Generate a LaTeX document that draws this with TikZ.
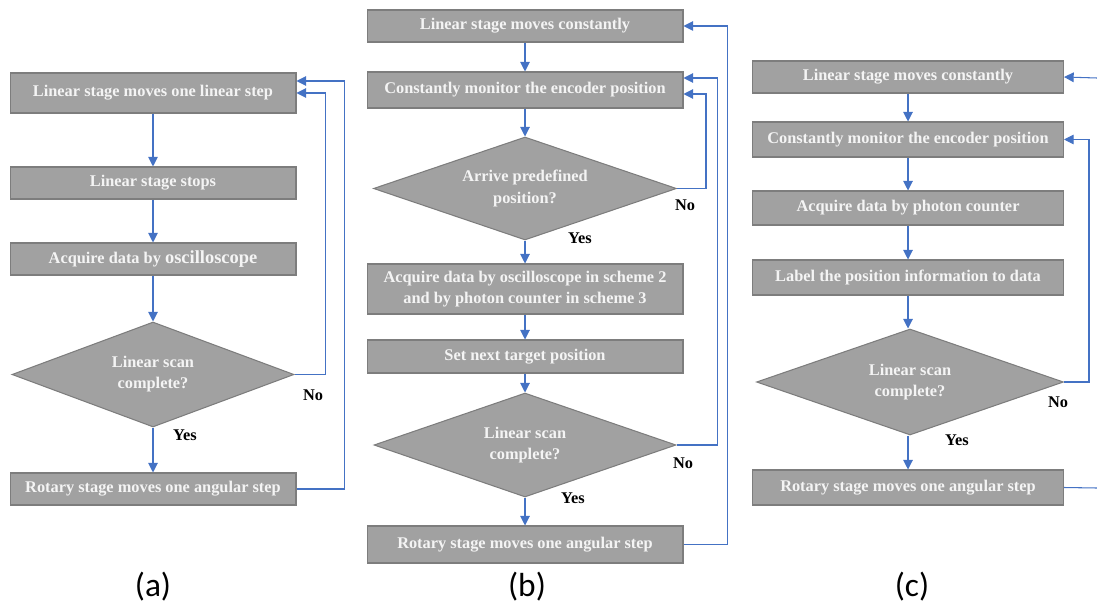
\documentclass[tikz,border=0pt]{standalone}
\usepackage{fontspec}
\setmainfont{Liberation Serif}
\newfontfamily\capfont{Carlito}
\usetikzlibrary{positioning, shapes.geometric, arrows.meta}

\definecolor{boxfill}{RGB}{161,161,161}
\definecolor{boxline}{RGB}{125,125,125}
\definecolor{boxtext}{RGB}{244,244,244}
\definecolor{flowblue}{RGB}{68,114,196}

\tikzset{
    box/.style={draw=boxline, fill=boxfill, text=boxtext, line width=0.6pt,
        font=\bfseries\fontsize{9.3}{12}\selectfont, inner sep=0pt, align=center},
    dec/.style={box, diamond, aspect=2.8},
    flow/.style={draw=flowblue, line width=0.6pt, -{Triangle[width=5.5pt,length=5.5pt]}},
    flowline/.style={draw=flowblue, line width=0.6pt},
    lbl/.style={font=\bfseries\fontsize{9.3}{11}\selectfont},
    captext/.style={font=\capfont\fontsize{19}{22}\selectfont},
}

\begin{document}
\begin{tikzpicture}[x=0.02cm, y=-0.02cm]
        \useasboundingbox (0,0) rectangle (1097,611);
        % (a)
        \node[box, minimum width=5.72cm, minimum height=0.8cm] (a1) at (153,93) {Linear stage moves one linear step};
        \node[box, minimum width=5.72cm, minimum height=0.64cm] (a2) at (153,183) {Linear stage stops};
        \node[box, minimum width=5.72cm, minimum height=0.64cm] (a3) at (153,259) {Acquire data by {\fontsize{10.5}{11}\selectfont oscilloscope}};
        \node[dec, minimum width=5.64cm, minimum height=2.1cm] (ad) at (153,374.5) {Linear scan\\complete?};
        \node[box, minimum width=5.72cm, minimum height=0.64cm] (a4) at (153,489) {Rotary stage moves one angular step};
        \draw[flow] (a1) -- (a2);
        \draw[flow] (a2) -- (a3);
        \draw[flow] (a3) -- (ad);
        \draw[flow] (ad) -- (a4);
        \draw[flow] (ad.east) -- ++(31,0) |- (a1.east);
        \draw[flow] (a4.east) -- ++(48,0) |- ([yshift=0.24cm]a1.east);
        \node[lbl] (ano) at (313,395) {No};
        \node[lbl] (ayes) at (185,435) {Yes};
        % (b)
        \node[box, minimum width=6.32cm, minimum height=0.64cm] (b1) at (525,26) {Linear stage moves constantly};
        \node[box, minimum width=6.32cm, minimum height=0.72cm] (b2) at (525,90) {Constantly monitor the encoder position};
        \node[dec, minimum width=6.06cm, minimum height=2.06cm] (bd1) at (525,188.5) {Arrive predefined\\position?};
        \node[box, minimum width=6.32cm, minimum height=1.0cm] (b3) at (525,289) {Acquire data by oscilloscope in scheme 2\\and by photon counter in scheme 3};
        \node[box, minimum width=6.32cm, minimum height=0.66cm] (b4) at (525,356.5) {Set next target position};
        \node[dec, minimum width=6.04cm, minimum height=2.08cm] (bd2) at (525,445) {Linear scan\\complete?};
        \node[box, minimum width=6.32cm, minimum height=0.74cm] (b5) at (525,544.5) {Rotary stage moves one angular step};
        \draw[flow] (b1) -- (b2);
        \draw[flow] (b2) -- (bd1);
        \draw[flow] (bd1) -- (b3);
        \draw[flow] (b3) -- (b4);
        \draw[flow] (b4) -- (bd2);
        \draw[flow] (bd2) -- (b5);
        \draw[flow] (bd1.east) -- ++(29,0) |- ([yshift=-0.08cm]b2.east);
        \draw[flow] (bd2.east) -- ++(41,0) |- ([yshift=0.24cm]b2.east);
        \draw[flow] (b5.east) -- ++(44,0) |- (b1.east);
        \node[lbl] (bno1) at (685,205) {No};
        \node[lbl] (byes1) at (580,238) {Yes};
        \node[lbl] (bno2) at (683,463) {No};
        \node[lbl] (byes2) at (573,498) {Yes};
        % (c)
        \node[box, minimum width=6.22cm, minimum height=0.64cm] (c1) at (908,77) {Linear stage moves constantly};
        \node[box, minimum width=6.22cm, minimum height=0.7cm] (c2) at (908,139.5) {Constantly monitor the encoder position};
        \node[box, minimum width=6.22cm, minimum height=0.68cm] (c3) at (908,208) {Acquire data by photon counter};
        \node[box, minimum width=6.22cm, minimum height=0.7cm] (c4) at (908,277.5) {Label the position information to data};
        \node[dec, minimum width=6.14cm, minimum height=2.12cm] (cd) at (910,382) {Linear scan\\complete?};
        \node[box, minimum width=6.22cm, minimum height=0.7cm] (c5) at (908,487.5) {Rotary stage moves one angular step};
        \coordinate (cin) at (1097,78);
        \coordinate (cout) at (1097,488);
        \draw[flow] (c1) -- (c2);
        \draw[flow] (c2) -- (c3);
        \draw[flow] (c3) -- (c4);
        \draw[flow] (c4) -- (cd.north -| c4);
        \draw[flow] (cd.south -| c5) -- (c5);
        \draw[flow] (cd.east) -- ++(25,0) |- (c2.east);
        \draw[flow] (cin) -- (c1.east);
        \draw[flowline] (c5.east) -- (cout);
        \node[lbl] (cno) at (1058,402) {No};
        \node[lbl] (cyes) at (957,440) {Yes};
        % captions
        \node[captext] (capa) at (153,587) {(a)};
        \node[captext] (capb) at (527,587) {(b)};
        \node[captext] (capc) at (912,587) {(c)};
    \end{tikzpicture}
\end{document}
